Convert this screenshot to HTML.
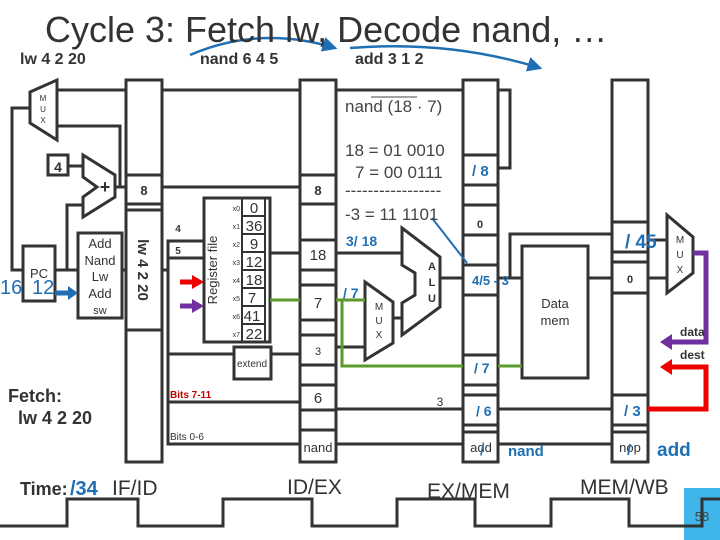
<!DOCTYPE html>
<html><head><style>
body{margin:0;background:#fff}
svg{display:block}
text{font-family:"Liberation Sans",sans-serif}
</style></head><body>
<svg width="720" height="540" viewBox="0 0 720 540" xmlns="http://www.w3.org/2000/svg">
<defs>
<marker id="bl" markerWidth="6" markerHeight="6" refX="5" refY="3" orient="auto"><path d="M0,0 L6,3 L0,6z" fill="#1f6fb5"/></marker>
</defs>
<g stroke="#333" stroke-width="3" fill="none">
<polyline points="57,90 510,90 510,168 498,168"/>
<polygon points="30,92 57,80 57,140 30,123" fill="#fff"/>
<rect x="48" y="155" width="20" height="20" fill="#fff"/>
<line x1="68" y1="166" x2="83" y2="166"/>
<polygon points="83,155 115,175 115,197 83,217 83,197 97,187 83,177" fill="#fff"/>
<polyline points="30,108 12,108 12,270 23,270"/>
<rect x="23" y="246" width="32" height="55" fill="#fff"/>
<line x1="55" y1="270" x2="78" y2="270"/>
<polyline points="67,270 67,205 83,205"/>
<polyline points="57,126 120,126 120,187"/>
<line x1="115" y1="187" x2="126" y2="187"/>
<rect x="78" y="233" width="44" height="85" fill="#fff"/>
<line x1="122" y1="270" x2="126" y2="270"/>
<rect x="126" y="80" width="36" height="382" fill="#fff"/>
<line x1="126" y1="175" x2="162" y2="175"/><line x1="126" y1="204" x2="162" y2="204"/>
<line x1="126" y1="210" x2="162" y2="210"/><line x1="126" y1="330" x2="162" y2="330"/>
<rect x="300" y="80" width="36" height="382" fill="#fff"/>
<line x1="300" y1="175" x2="336" y2="175"/><line x1="300" y1="204" x2="336" y2="204"/>
<line x1="300" y1="240" x2="336" y2="240"/><line x1="300" y1="270" x2="336" y2="270"/>
<line x1="300" y1="285" x2="336" y2="285"/><line x1="300" y1="320" x2="336" y2="320"/>
<line x1="300" y1="335" x2="336" y2="335"/><line x1="300" y1="365" x2="336" y2="365"/>
<line x1="300" y1="385" x2="336" y2="385"/><line x1="300" y1="410" x2="336" y2="410"/>
<line x1="300" y1="430" x2="336" y2="430"/>
<rect x="463" y="80" width="35" height="382" fill="#fff"/>
<line x1="463" y1="155" x2="498" y2="155"/><line x1="463" y1="185" x2="498" y2="185"/>
<line x1="463" y1="205" x2="498" y2="205"/><line x1="463" y1="235" x2="498" y2="235"/>
<line x1="463" y1="265" x2="498" y2="265"/><line x1="463" y1="295" x2="498" y2="295"/>
<line x1="463" y1="355" x2="498" y2="355"/><line x1="463" y1="385" x2="498" y2="385"/>
<line x1="463" y1="395" x2="498" y2="395"/><line x1="463" y1="425" x2="498" y2="425"/>
<line x1="463" y1="432" x2="498" y2="432"/>
<rect x="612" y="80" width="36" height="382" fill="#fff"/>
<line x1="612" y1="222" x2="648" y2="222"/><line x1="612" y1="252" x2="648" y2="252"/>
<line x1="612" y1="262" x2="648" y2="262"/><line x1="612" y1="293" x2="648" y2="293"/>
<line x1="612" y1="395" x2="648" y2="395"/><line x1="612" y1="425" x2="648" y2="425"/>
<line x1="612" y1="432" x2="648" y2="432"/>
<line x1="162" y1="187" x2="300" y2="187"/>
<rect x="204" y="198" width="66" height="144" fill="#fff"/>
<line x1="242" y1="198" x2="242" y2="342" stroke-width="2"/>
<line x1="265" y1="198" x2="265" y2="342" stroke-width="2"/>
<g stroke-width="2"><line x1="242" y1="216" x2="265" y2="216"/><line x1="242" y1="234" x2="265" y2="234"/><line x1="242" y1="252" x2="265" y2="252"/><line x1="242" y1="270" x2="265" y2="270"/><line x1="242" y1="288" x2="265" y2="288"/><line x1="242" y1="306" x2="265" y2="306"/><line x1="242" y1="324" x2="265" y2="324"/></g>
<polyline points="204,241 168,241 168,444 300,444"/>
<line x1="168" y1="258" x2="204" y2="258"/>
<line x1="168" y1="354" x2="300" y2="354"/>
<line x1="168" y1="402" x2="300" y2="402"/>
<rect x="234" y="347" width="37" height="32" fill="#fff"/>
<line x1="162" y1="270" x2="168" y2="270"/>
<line x1="270" y1="253" x2="300" y2="253"/>
<line x1="336" y1="253" x2="402" y2="253"/>
<line x1="336" y1="347" x2="365" y2="347"/>
<line x1="336" y1="409" x2="463" y2="409"/>
<line x1="336" y1="444" x2="463" y2="444"/>
<polygon points="402,228 440,257 440,307 402,335 402,303 415,295 415,273 402,265" fill="#fff"/>
<polygon points="365,282 393,302 393,343 365,360" fill="#fff"/>
<line x1="393" y1="318" x2="402" y2="318"/>
<line x1="440" y1="278" x2="463" y2="278"/>
<line x1="498" y1="278" x2="522" y2="278"/>
<polyline points="510,278 510,234 612,234"/>
<rect x="522" y="246" width="66" height="132" fill="#fff"/>
<line x1="588" y1="278" x2="612" y2="278"/>
<line x1="498" y1="409" x2="612" y2="409"/>
<line x1="498" y1="444" x2="612" y2="444"/>
<line x1="648" y1="240" x2="667" y2="240"/>
<line x1="648" y1="278" x2="667" y2="278"/>
<polygon points="667,215 693,237 693,273 667,293" fill="#fff"/>
</g>
<g stroke="#5a9a2a" stroke-width="3" fill="none">
<line x1="270" y1="300" x2="300" y2="300"/>
<polyline points="336,300 365,300"/>
<polyline points="342,300 342,366 463,366"/>
<line x1="498" y1="366" x2="522" y2="366"/>
</g>
<polyline points="693,253 706,253 706,342 668,342" stroke="#7030a0" stroke-width="5" fill="none"/>
<polygon points="660,342 672,334 672,350" fill="#7030a0"/>
<polyline points="648,409 706,409 706,367 668,367" stroke="#e00" stroke-width="5" fill="none"/>
<polygon points="660,367 672,359 672,375" fill="#e00"/>
<line x1="180" y1="282" x2="194" y2="282" stroke="#e00" stroke-width="5"/><polygon points="192,275 204,282 192,289" fill="#e00"/>
<line x1="180" y1="306" x2="194" y2="306" stroke="#7030a0" stroke-width="5"/><polygon points="192,299 204,306 192,313" fill="#7030a0"/>
<line x1="55" y1="293" x2="70" y2="293" stroke="#1f6fb5" stroke-width="5"/><polygon points="68,286 78,293 68,300" fill="#1f6fb5"/>
<line x1="432" y1="218" x2="467" y2="263" stroke="#1f6fb5" stroke-width="2"/>
<path d="M190,55 Q260,25 335,48" stroke="#1f6fb5" stroke-width="2.5" fill="none" marker-end="url(#bl)"/>
<path d="M350,48 Q450,40 540,68" stroke="#1f6fb5" stroke-width="2.5" fill="none" marker-end="url(#bl)"/>
<rect x="684" y="488" width="36" height="52" fill="#3fb5ea"/>
<polyline points="0,526 67,526 67,499 138,499 138,526 223,526 223,499 312,499 312,526 397,526 397,499 475,499 475,526 551,526 551,499 629,499 629,526 702,526 702,499 720,499" stroke="#333" stroke-width="3" fill="none"/>
<text x="702" y="521" font-size="13" fill="#444" text-anchor="middle">58</text>
<g fill="#333">
<text x="45" y="42" font-size="36">Cycle 3: Fetch lw, Decode nand, …</text>
<text x="20" y="64" font-size="16" font-weight="bold">lw 4 2 20</text>
<text x="200" y="64" font-size="16" font-weight="bold">nand 6 4 5</text>
<text x="355" y="64" font-size="16" font-weight="bold">add 3 1 2</text>
<text x="43" y="101" font-size="8" text-anchor="middle">M</text><text x="43" y="112" font-size="8" text-anchor="middle">U</text><text x="43" y="123" font-size="8" text-anchor="middle">X</text>
<text x="58" y="172" font-size="14" font-weight="bold" text-anchor="middle">4</text>
<text x="105" y="193" font-size="18" font-weight="bold" text-anchor="middle">+</text>
<text x="39" y="278" font-size="13" text-anchor="middle">PC</text>
<text x="100" y="248" font-size="13" text-anchor="middle">Add</text>
<text x="100" y="265" font-size="13" text-anchor="middle">Nand</text>
<text x="100" y="281" font-size="13" text-anchor="middle">Lw</text>
<text x="100" y="298" font-size="13" text-anchor="middle">Add</text>
<text x="100" y="314" font-size="11" text-anchor="middle">sw</text>
<text x="144" y="195" font-size="13" font-weight="bold" text-anchor="middle">8</text>
<text x="318" y="195" font-size="13" font-weight="bold" text-anchor="middle">8</text>
<text transform="translate(138,270) rotate(90)" font-size="15" font-weight="bold" text-anchor="middle">lw 4 2 20</text>
<text transform="translate(217,270) rotate(-90)" font-size="13" text-anchor="middle">Register file</text>
<text x="178" y="232" font-size="10" font-weight="bold" text-anchor="middle">4</text>
<text x="178" y="254" font-size="10" font-weight="bold" text-anchor="middle">5</text>
<g font-size="7" text-anchor="end"><text x="240" y="211">x0</text><text x="240" y="229">x1</text><text x="240" y="247">x2</text><text x="240" y="265">x3</text><text x="240" y="283">x4</text><text x="240" y="301">x5</text><text x="240" y="319">x6</text><text x="240" y="337">x7</text></g>
<g font-size="15" text-anchor="middle"><text x="254" y="213">0</text><text x="254" y="231">36</text><text x="254" y="249">9</text><text x="254" y="267">12</text><text x="254" y="285">18</text><text x="252" y="303">7</text><text x="252" y="321">41</text><text x="254" y="339">22</text></g>
<text x="252" y="367" font-size="10" text-anchor="middle">extend</text>
<text x="170" y="398" font-size="10" font-weight="bold" fill="#c00000">Bits 7-11</text>
<text x="170" y="440" font-size="10">Bits 0-6</text>
<text x="318" y="260" font-size="15" text-anchor="middle">18</text>
<text x="318" y="308" font-size="15" text-anchor="middle">7</text>
<text x="318" y="355" font-size="11" text-anchor="middle">3</text>
<text x="318" y="403" font-size="15" text-anchor="middle">6</text>
<text x="318" y="452" font-size="13" text-anchor="middle">nand</text>
<g font-size="17" fill="#444"><text x="345" y="112">nand (18 · 7)</text><text x="345" y="156">18 = 01  0010</text><text x="355" y="178">7 = 00  0111</text><text x="345" y="196">-----------------</text><text x="345" y="220">-3 = 11  1101</text></g>
<line x1="371" y1="97" x2="417" y2="97" stroke="#444" stroke-width="1"/>
<text x="432" y="270" font-size="11" font-weight="bold" text-anchor="middle">A</text><text x="432" y="286" font-size="11" font-weight="bold" text-anchor="middle">L</text><text x="432" y="302" font-size="11" font-weight="bold" text-anchor="middle">U</text>
<text x="379" y="310" font-size="10" text-anchor="middle">M</text><text x="379" y="324" font-size="10" text-anchor="middle">U</text><text x="379" y="338" font-size="10" text-anchor="middle">X</text>
<text x="480" y="228" font-size="11" font-weight="bold" text-anchor="middle">0</text>
<text x="555" y="308" font-size="13" text-anchor="middle">Data</text><text x="555" y="325" font-size="13" text-anchor="middle">mem</text>
<text x="630" y="283" font-size="11" font-weight="bold" text-anchor="middle">0</text>
<text x="680" y="243" font-size="10" text-anchor="middle">M</text><text x="680" y="258" font-size="10" text-anchor="middle">U</text><text x="680" y="273" font-size="10" text-anchor="middle">X</text>
<text x="680" y="336" font-size="12" font-weight="bold">data</text>
<text x="680" y="359" font-size="12" font-weight="bold">dest</text>
<text x="440" y="406" font-size="12" text-anchor="middle">3</text>
<text x="481" y="452" font-size="13" text-anchor="middle">add</text>
<text x="630" y="452" font-size="13" text-anchor="middle">nop</text>
<text x="8" y="402" font-size="18" font-weight="bold">Fetch:</text>
<text x="18" y="424" font-size="18" font-weight="bold">lw 4 2 20</text>
<text x="20" y="495" font-size="18" font-weight="bold">Time:</text>
<text x="112" y="495" font-size="21">IF/ID</text>
<text x="287" y="494" font-size="21">ID/EX</text>
<text x="427" y="498" font-size="21">EX/MEM</text>
<text x="580" y="494" font-size="21">MEM/WB</text>
</g>
<g fill="#1f6fb5" font-weight="bold">
<text x="0" y="294" font-size="20" font-weight="normal">16</text>
<text x="32" y="294" font-size="20" font-weight="normal">12</text>
<text x="472" y="176" font-size="15">/ 8</text>
<text x="346" y="246" font-size="14">3/ 18</text>
<text x="343" y="298" font-size="14">/ 7</text>
<text x="472" y="285" font-size="13">4/5 - 3</text>
<text x="474" y="373" font-size="14">/ 7</text>
<text x="476" y="416" font-size="14">/ 6</text>
<text x="480" y="455" font-size="14">/</text>
<text x="508" y="456" font-size="15">nand</text>
<text x="625" y="248" font-size="19">/ 45</text>
<text x="624" y="416" font-size="15">/ 3</text>
<text x="627" y="455" font-size="15">/</text>
<text x="657" y="456" font-size="19">add</text>
<text x="70" y="495" font-size="20">/34</text>
</g>
</svg>
</body></html>
